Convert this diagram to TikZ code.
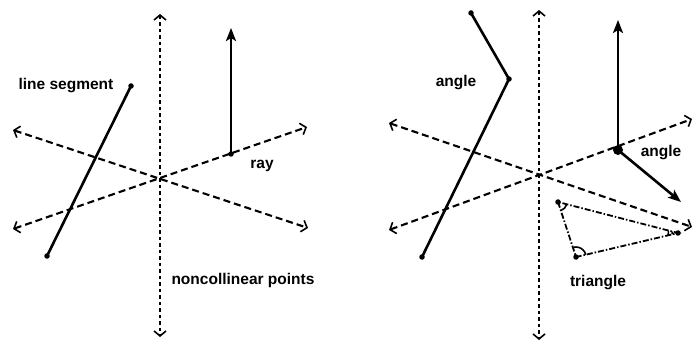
\documentclass[tikz,border=0pt]{standalone}
\usepackage{fontspec}
\setmainfont{Liberation Sans}
\usetikzlibrary{arrows.meta}
\tikzset{
  chev/.tip={Straight Barb[length=5pt,width=12pt,line width=1.6pt]},
  dline/.style={line width=2.1pt, dash pattern=on 7pt off 4pt, chev-chev},
  vline/.style={line width=2.1pt, dash pattern=on 3.5pt off 3pt, chev-chev},
  seg/.style={line width=2.6pt},
  rayline/.style={line width=2.6pt, -{Stealth[length=13pt,width=10pt,inset=3pt]}},
  tri/.style={line width=1.8pt, dash pattern=on 6pt off 2pt on 1.5pt off 2pt},
  dot/.style={circle, fill, inner sep=0pt, minimum size=5.5pt},
  bigdot/.style={circle, fill, inner sep=0pt, minimum size=10pt},
  lbl/.style={font=\fontsize{15.5}{18}\selectfont\bfseries},
  amark/.style={line width=1.6pt}
}
\begin{document}
\begin{tikzpicture}[x=1pt,y=-1pt]
\useasboundingbox (0,0) rectangle (692,344);
% ---------- left panel ----------
\coordinate (V1t) at (160,14);
\coordinate (V1b) at (160,337);
\coordinate (A1) at (13,130);
\coordinate (B1) at (308,228);
\coordinate (A2) at (13,229);
\coordinate (B2) at (307,127);
\node[dot] (S1) at (47,256) {};
\node[dot] (S2) at (131,86) {};
\node[dot] (R0) at (231,154) {};
\coordinate (R1) at (231,28);
\draw[vline] (V1t) -- (V1b);
\draw[dline] (A1) -- (B1);
\draw[dline] (A2) -- (B2);
\draw[seg] (S1.center) -- (S2.center);
\draw[rayline] (R0.center) -- (R1);
\node[lbl] (tseg) at (66,86) {line segment};
\node[lbl] (tray) at (262,166) {ray};
\node[lbl] (tnon) at (243,280) {noncollinear points};
% ---------- right panel ----------
\coordinate (V2t) at (539,10);
\coordinate (V2b) at (539,340);
\coordinate (A3) at (389,123);
\coordinate (B3) at (692,227);
\coordinate (A4) at (389,230);
\coordinate (B4) at (692,119);
\draw[vline] (V2t) -- (V2b);
\draw[dline] (A3) -- (B3);
\draw[dline] (A4) -- (B4);
\node[dot] (G1) at (471,13) {};
\node[dot] (G2) at (509,79) {};
\node[dot] (G3) at (422,257) {};
\draw[seg] (G1.center) -- (G2.center) -- (G3.center);
\node[bigdot] (H0) at (618,150) {};
\coordinate (H1) at (618,20);
\coordinate (H2) at (681,202);
\draw[rayline] (H0.center) -- (H1);
\draw[rayline] (H0.center) -- (H2);
\node[dot] (T1) at (558,202) {};
\node[dot] (T2) at (576,257) {};
\node[dot] (T3) at (678,233) {};
\draw[tri] (T1.center) -- (T2.center) -- (T3.center) -- cycle;
% angle marks
\draw[amark] ([shift={(-71.9:9pt)}]T1.center) arc[start angle=-71.9, end angle=-14.5, radius=9pt];
\draw[amark] ([shift={(13.2:10pt)}]T2.center) arc[start angle=13.2, end angle=108.1, radius=10pt];
\draw[amark] ([shift={(165.5:6pt)}]T3.center) arc[start angle=165.5, end angle=193.2, radius=6pt];
\draw[amark] ([shift={(165.5:10pt)}]T3.center) arc[start angle=165.5, end angle=193.2, radius=10pt];
\node[lbl] (tang1) at (456,83) {angle};
\node[lbl] (tang2) at (661,153) {angle};
\node[lbl] (ttri) at (598,283) {triangle};
\end{tikzpicture}
\end{document}
